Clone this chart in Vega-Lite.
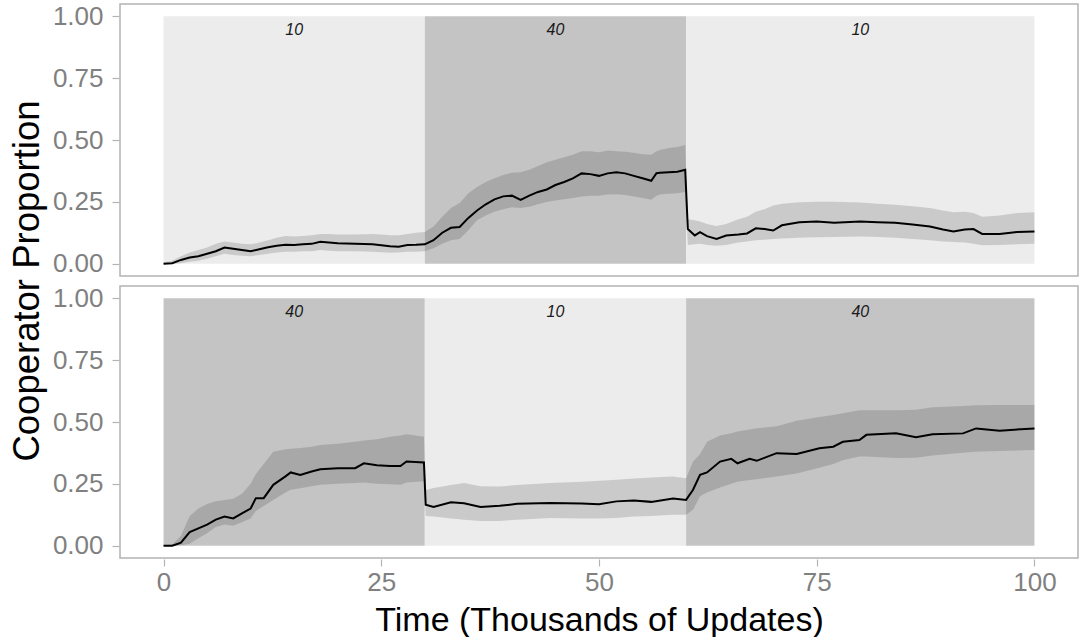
{
  "$schema": "https://vega.github.io/schema/vega-lite/v6.json",
  "padding": {"left": 9, "top": 3, "right": 0, "bottom": 0},
  "background": "white",
  "config": {
    "font": "Liberation Sans",
    "view": {"stroke": "#b3b3b3", "strokeWidth": 1.5},
    "axis": {"grid": false, "domain": false, "tickColor": "#b3b3b3", "tickSize": 7, "tickWidth": 1.2, "labelColor": "#808080", "labelFontSize": 26, "titleColor": "#000000", "titleFontSize": 34, "titleFontWeight": "normal"}
  },
  "data": {"values": [
    {"k":"r","p":"A","x1":0,"x2":30,"xm":15,"lvl":"10"},
    {"k":"r","p":"A","x1":30,"x2":60,"xm":45,"lvl":"40"},
    {"k":"r","p":"A","x1":60,"x2":100,"xm":80,"lvl":"10"},
    {"k":"r","p":"B","x1":0,"x2":30,"xm":15,"lvl":"40"},
    {"k":"r","p":"B","x1":30,"x2":60,"xm":45,"lvl":"10"},
    {"k":"r","p":"B","x1":60,"x2":100,"xm":80,"lvl":"40"},
    {"k":"s","p":"A","t":0,"m":0,"lo":0,"hi":0.005},
    {"k":"s","p":"A","t":1,"m":0.002,"lo":0,"hi":0.012},
    {"k":"s","p":"A","t":2,"m":0.015,"lo":0.002,"hi":0.03},
    {"k":"s","p":"A","t":3,"m":0.025,"lo":0.008,"hi":0.045},
    {"k":"s","p":"A","t":4,"m":0.03,"lo":0.012,"hi":0.055},
    {"k":"s","p":"A","t":5,"m":0.04,"lo":0.02,"hi":0.065},
    {"k":"s","p":"A","t":6,"m":0.05,"lo":0.03,"hi":0.08},
    {"k":"s","p":"A","t":7,"m":0.065,"lo":0.04,"hi":0.09},
    {"k":"s","p":"A","t":8,"m":0.06,"lo":0.035,"hi":0.085},
    {"k":"s","p":"A","t":9,"m":0.055,"lo":0.032,"hi":0.08},
    {"k":"s","p":"A","t":10,"m":0.05,"lo":0.03,"hi":0.078},
    {"k":"s","p":"A","t":11,"m":0.058,"lo":0.035,"hi":0.085},
    {"k":"s","p":"A","t":12,"m":0.066,"lo":0.04,"hi":0.095},
    {"k":"s","p":"A","t":13,"m":0.072,"lo":0.045,"hi":0.105},
    {"k":"s","p":"A","t":14,"m":0.076,"lo":0.048,"hi":0.112},
    {"k":"s","p":"A","t":15,"m":0.075,"lo":0.048,"hi":0.11},
    {"k":"s","p":"A","t":16,"m":0.078,"lo":0.05,"hi":0.112},
    {"k":"s","p":"A","t":17,"m":0.08,"lo":0.05,"hi":0.115},
    {"k":"s","p":"A","t":18,"m":0.088,"lo":0.055,"hi":0.12},
    {"k":"s","p":"A","t":19,"m":0.085,"lo":0.052,"hi":0.12},
    {"k":"s","p":"A","t":20,"m":0.082,"lo":0.05,"hi":0.118},
    {"k":"s","p":"A","t":22,"m":0.08,"lo":0.05,"hi":0.118},
    {"k":"s","p":"A","t":24,"m":0.078,"lo":0.048,"hi":0.12},
    {"k":"s","p":"A","t":25,"m":0.074,"lo":0.046,"hi":0.118},
    {"k":"s","p":"A","t":26,"m":0.07,"lo":0.044,"hi":0.115},
    {"k":"s","p":"A","t":27,"m":0.068,"lo":0.045,"hi":0.115},
    {"k":"s","p":"A","t":28,"m":0.075,"lo":0.048,"hi":0.12},
    {"k":"s","p":"A","t":29,"m":0.076,"lo":0.048,"hi":0.125},
    {"k":"s","p":"A","t":30,"m":0.078,"lo":0.05,"hi":0.128},
    {"k":"s","p":"A","t":31,"m":0.095,"lo":0.062,"hi":0.15},
    {"k":"s","p":"A","t":32,"m":0.125,"lo":0.08,"hi":0.19},
    {"k":"s","p":"A","t":33,"m":0.145,"lo":0.095,"hi":0.225},
    {"k":"s","p":"A","t":34,"m":0.148,"lo":0.1,"hi":0.245},
    {"k":"s","p":"A","t":35,"m":0.185,"lo":0.135,"hi":0.285},
    {"k":"s","p":"A","t":36,"m":0.215,"lo":0.175,"hi":0.31},
    {"k":"s","p":"A","t":37,"m":0.24,"lo":0.195,"hi":0.33},
    {"k":"s","p":"A","t":38,"m":0.26,"lo":0.21,"hi":0.345},
    {"k":"s","p":"A","t":39,"m":0.272,"lo":0.22,"hi":0.358},
    {"k":"s","p":"A","t":40,"m":0.275,"lo":0.228,"hi":0.368},
    {"k":"s","p":"A","t":41,"m":0.258,"lo":0.225,"hi":0.37},
    {"k":"s","p":"A","t":42,"m":0.275,"lo":0.23,"hi":0.38},
    {"k":"s","p":"A","t":43,"m":0.29,"lo":0.24,"hi":0.395},
    {"k":"s","p":"A","t":44,"m":0.3,"lo":0.249,"hi":0.41},
    {"k":"s","p":"A","t":45,"m":0.318,"lo":0.255,"hi":0.42},
    {"k":"s","p":"A","t":46,"m":0.33,"lo":0.26,"hi":0.43},
    {"k":"s","p":"A","t":47,"m":0.345,"lo":0.265,"hi":0.44},
    {"k":"s","p":"A","t":48,"m":0.365,"lo":0.272,"hi":0.455},
    {"k":"s","p":"A","t":49,"m":0.362,"lo":0.275,"hi":0.455},
    {"k":"s","p":"A","t":50,"m":0.355,"lo":0.275,"hi":0.45},
    {"k":"s","p":"A","t":51,"m":0.365,"lo":0.28,"hi":0.458},
    {"k":"s","p":"A","t":52,"m":0.37,"lo":0.281,"hi":0.455},
    {"k":"s","p":"A","t":53,"m":0.365,"lo":0.278,"hi":0.452},
    {"k":"s","p":"A","t":54,"m":0.355,"lo":0.272,"hi":0.448},
    {"k":"s","p":"A","t":55,"m":0.345,"lo":0.265,"hi":0.442},
    {"k":"s","p":"A","t":56,"m":0.335,"lo":0.258,"hi":0.44},
    {"k":"s","p":"A","t":56.6,"m":0.366,"lo":0.275,"hi":0.455},
    {"k":"s","p":"A","t":57,"m":0.368,"lo":0.28,"hi":0.46},
    {"k":"s","p":"A","t":58,"m":0.37,"lo":0.283,"hi":0.468},
    {"k":"s","p":"A","t":59,"m":0.372,"lo":0.285,"hi":0.472},
    {"k":"s","p":"A","t":59.9,"m":0.38,"lo":0.29,"hi":0.48},
    {"k":"s","p":"A","t":60.2,"m":0.14,"lo":0.075,"hi":0.18},
    {"k":"s","p":"A","t":61,"m":0.114,"lo":0.078,"hi":0.175},
    {"k":"s","p":"A","t":61.6,"m":0.127,"lo":0.08,"hi":0.17},
    {"k":"s","p":"A","t":62.4,"m":0.111,"lo":0.075,"hi":0.16},
    {"k":"s","p":"A","t":63.5,"m":0.1,"lo":0.072,"hi":0.152},
    {"k":"s","p":"A","t":64.6,"m":0.114,"lo":0.075,"hi":0.16},
    {"k":"s","p":"A","t":66,"m":0.118,"lo":0.085,"hi":0.18},
    {"k":"s","p":"A","t":67,"m":0.122,"lo":0.09,"hi":0.19},
    {"k":"s","p":"A","t":68,"m":0.143,"lo":0.095,"hi":0.21},
    {"k":"s","p":"A","t":69,"m":0.14,"lo":0.097,"hi":0.22},
    {"k":"s","p":"A","t":70,"m":0.134,"lo":0.1,"hi":0.235},
    {"k":"s","p":"A","t":71,"m":0.155,"lo":0.102,"hi":0.242},
    {"k":"s","p":"A","t":73,"m":0.167,"lo":0.105,"hi":0.248},
    {"k":"s","p":"A","t":75,"m":0.17,"lo":0.107,"hi":0.25},
    {"k":"s","p":"A","t":77,"m":0.165,"lo":0.108,"hi":0.25},
    {"k":"s","p":"A","t":80,"m":0.17,"lo":0.11,"hi":0.247},
    {"k":"s","p":"A","t":82,"m":0.167,"lo":0.108,"hi":0.242},
    {"k":"s","p":"A","t":84,"m":0.165,"lo":0.105,"hi":0.238},
    {"k":"s","p":"A","t":86,"m":0.158,"lo":0.1,"hi":0.232},
    {"k":"s","p":"A","t":88,"m":0.15,"lo":0.095,"hi":0.225},
    {"k":"s","p":"A","t":89.5,"m":0.138,"lo":0.09,"hi":0.215},
    {"k":"s","p":"A","t":90.7,"m":0.13,"lo":0.087,"hi":0.208},
    {"k":"s","p":"A","t":92,"m":0.138,"lo":0.085,"hi":0.21},
    {"k":"s","p":"A","t":93,"m":0.14,"lo":0.08,"hi":0.205},
    {"k":"s","p":"A","t":94,"m":0.12,"lo":0.074,"hi":0.19},
    {"k":"s","p":"A","t":96,"m":0.12,"lo":0.075,"hi":0.195},
    {"k":"s","p":"A","t":98,"m":0.128,"lo":0.078,"hi":0.205},
    {"k":"s","p":"A","t":100,"m":0.13,"lo":0.08,"hi":0.208},
    {"k":"s","p":"B","t":0,"m":0,"lo":0,"hi":0.003},
    {"k":"s","p":"B","t":1,"m":0,"lo":0,"hi":0.005},
    {"k":"s","p":"B","t":2,"m":0.012,"lo":0.002,"hi":0.04},
    {"k":"s","p":"B","t":3,"m":0.055,"lo":0.008,"hi":0.12},
    {"k":"s","p":"B","t":4,"m":0.07,"lo":0.03,"hi":0.15},
    {"k":"s","p":"B","t":5,"m":0.085,"lo":0.05,"hi":0.168},
    {"k":"s","p":"B","t":6,"m":0.105,"lo":0.075,"hi":0.18},
    {"k":"s","p":"B","t":7,"m":0.118,"lo":0.085,"hi":0.185},
    {"k":"s","p":"B","t":8,"m":0.11,"lo":0.08,"hi":0.19},
    {"k":"s","p":"B","t":9,"m":0.13,"lo":0.095,"hi":0.21},
    {"k":"s","p":"B","t":10,"m":0.15,"lo":0.11,"hi":0.25},
    {"k":"s","p":"B","t":10.6,"m":0.192,"lo":0.14,"hi":0.29},
    {"k":"s","p":"B","t":11.5,"m":0.192,"lo":0.16,"hi":0.33},
    {"k":"s","p":"B","t":12.6,"m":0.246,"lo":0.185,"hi":0.38},
    {"k":"s","p":"B","t":14,"m":0.28,"lo":0.215,"hi":0.39},
    {"k":"s","p":"B","t":14.6,"m":0.296,"lo":0.226,"hi":0.392},
    {"k":"s","p":"B","t":15.7,"m":0.286,"lo":0.232,"hi":0.395},
    {"k":"s","p":"B","t":17,"m":0.3,"lo":0.24,"hi":0.4},
    {"k":"s","p":"B","t":18,"m":0.309,"lo":0.246,"hi":0.407},
    {"k":"s","p":"B","t":20,"m":0.313,"lo":0.25,"hi":0.412},
    {"k":"s","p":"B","t":22,"m":0.313,"lo":0.253,"hi":0.42},
    {"k":"s","p":"B","t":23,"m":0.333,"lo":0.255,"hi":0.425},
    {"k":"s","p":"B","t":24.5,"m":0.325,"lo":0.25,"hi":0.43},
    {"k":"s","p":"B","t":26,"m":0.322,"lo":0.248,"hi":0.44},
    {"k":"s","p":"B","t":27.2,"m":0.322,"lo":0.246,"hi":0.445},
    {"k":"s","p":"B","t":27.9,"m":0.34,"lo":0.255,"hi":0.45},
    {"k":"s","p":"B","t":29.9,"m":0.336,"lo":0.26,"hi":0.44},
    {"k":"s","p":"B","t":30.1,"m":0.165,"lo":0.12,"hi":0.225},
    {"k":"s","p":"B","t":31,"m":0.156,"lo":0.118,"hi":0.233},
    {"k":"s","p":"B","t":33,"m":0.175,"lo":0.11,"hi":0.245},
    {"k":"s","p":"B","t":34.5,"m":0.171,"lo":0.105,"hi":0.253},
    {"k":"s","p":"B","t":36.4,"m":0.156,"lo":0.1,"hi":0.24},
    {"k":"s","p":"B","t":38.6,"m":0.161,"lo":0.1,"hi":0.239},
    {"k":"s","p":"B","t":40.6,"m":0.169,"lo":0.105,"hi":0.245},
    {"k":"s","p":"B","t":44.4,"m":0.172,"lo":0.112,"hi":0.253},
    {"k":"s","p":"B","t":48,"m":0.17,"lo":0.11,"hi":0.258},
    {"k":"s","p":"B","t":50,"m":0.167,"lo":0.11,"hi":0.262},
    {"k":"s","p":"B","t":52,"m":0.179,"lo":0.112,"hi":0.266},
    {"k":"s","p":"B","t":54,"m":0.183,"lo":0.118,"hi":0.272},
    {"k":"s","p":"B","t":56,"m":0.177,"lo":0.12,"hi":0.276},
    {"k":"s","p":"B","t":58.5,"m":0.191,"lo":0.125,"hi":0.28},
    {"k":"s","p":"B","t":60,"m":0.185,"lo":0.125,"hi":0.273},
    {"k":"s","p":"B","t":60.8,"m":0.226,"lo":0.145,"hi":0.34},
    {"k":"s","p":"B","t":61.6,"m":0.286,"lo":0.2,"hi":0.37},
    {"k":"s","p":"B","t":62.4,"m":0.296,"lo":0.215,"hi":0.42},
    {"k":"s","p":"B","t":63.9,"m":0.34,"lo":0.235,"hi":0.445},
    {"k":"s","p":"B","t":65.2,"m":0.351,"lo":0.25,"hi":0.455},
    {"k":"s","p":"B","t":65.9,"m":0.333,"lo":0.258,"hi":0.462},
    {"k":"s","p":"B","t":67.3,"m":0.351,"lo":0.265,"hi":0.47},
    {"k":"s","p":"B","t":68.1,"m":0.343,"lo":0.268,"hi":0.475},
    {"k":"s","p":"B","t":70.4,"m":0.374,"lo":0.28,"hi":0.483},
    {"k":"s","p":"B","t":72.7,"m":0.371,"lo":0.292,"hi":0.505},
    {"k":"s","p":"B","t":75.3,"m":0.394,"lo":0.315,"hi":0.52},
    {"k":"s","p":"B","t":76.9,"m":0.4,"lo":0.33,"hi":0.528},
    {"k":"s","p":"B","t":78,"m":0.42,"lo":0.345,"hi":0.535},
    {"k":"s","p":"B","t":79.9,"m":0.427,"lo":0.36,"hi":0.548},
    {"k":"s","p":"B","t":80.7,"m":0.448,"lo":0.36,"hi":0.548},
    {"k":"s","p":"B","t":84.1,"m":0.454,"lo":0.354,"hi":0.548},
    {"k":"s","p":"B","t":86.4,"m":0.438,"lo":0.355,"hi":0.55},
    {"k":"s","p":"B","t":88.3,"m":0.45,"lo":0.365,"hi":0.56},
    {"k":"s","p":"B","t":91.8,"m":0.454,"lo":0.376,"hi":0.565},
    {"k":"s","p":"B","t":93.3,"m":0.474,"lo":0.38,"hi":0.568},
    {"k":"s","p":"B","t":96,"m":0.465,"lo":0.383,"hi":0.569},
    {"k":"s","p":"B","t":100,"m":0.474,"lo":0.387,"hi":0.569}
  ]},
  "facet": {"row": {"field": "p", "type": "nominal", "title": "Cooperator Proportion", "header": {"labels": false, "titleFontSize": 36.5, "titleFont": "Liberation Sans", "titleColor": "#000000", "titleFontWeight": "normal", "titlePadding": -4}}},
  "spacing": 8,
  "spec": {
    "width": 958,
    "height": 272,
    "encoding": {
      "x": {"type": "quantitative", "scale": {"domain": [-5, 105], "nice": false, "zero": false}, "axis": {"values": [0, 25, 50, 75, 100], "title": "Time (Thousands of Updates)", "labelPadding": 3, "titlePadding": 8}},
      "y": {"type": "quantitative", "scale": {"domain": [-0.05, 1.05], "nice": false, "zero": false}, "axis": {"values": [0, 0.25, 0.5, 0.75, 1], "format": ".2f", "title": null, "labelPadding": 9}}
    },
    "layer": [
      {
        "transform": [{"filter": "datum.k == 'r'"}],
        "mark": {"type": "rect"},
        "encoding": {
          "x": {"field": "x1", "type": "quantitative"},
          "x2": {"field": "x2"},
          "y": {"datum": 0},
          "y2": {"datum": 1},
          "fill": {"condition": {"test": "datum.lvl == '40'", "value": "#c4c4c4"}, "value": "#ececec"}
        }
      },
      {
        "transform": [{"filter": "datum.k == 's'"}],
        "mark": {"type": "area", "color": "#000000", "opacity": 0.14},
        "encoding": {
          "x": {"field": "t", "type": "quantitative"},
          "y": {"field": "lo", "type": "quantitative"},
          "y2": {"field": "hi"}
        }
      },
      {
        "transform": [{"filter": "datum.k == 's'"}],
        "mark": {"type": "line", "color": "#000000", "strokeWidth": 2},
        "encoding": {
          "x": {"field": "t", "type": "quantitative"},
          "y": {"field": "m", "type": "quantitative"}
        }
      },
      {
        "transform": [{"filter": "datum.k == 'r'"}],
        "mark": {"type": "text", "fontStyle": "italic", "fontSize": 16, "color": "#1a1a1a", "baseline": "middle"},
        "encoding": {
          "x": {"field": "xm", "type": "quantitative"},
          "y": {"datum": 0.945},
          "text": {"field": "lvl"}
        }
      }
    ]
  }
}
